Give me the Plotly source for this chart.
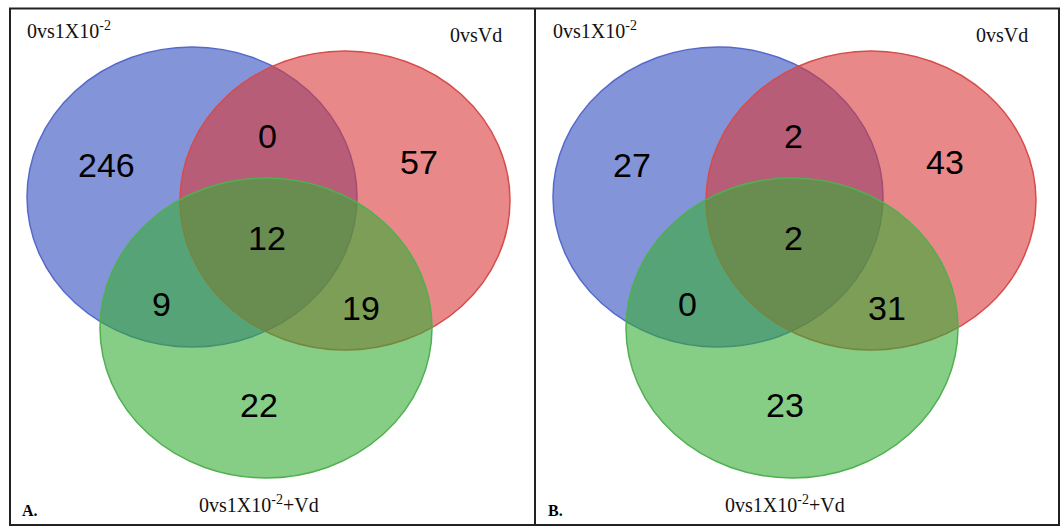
import plotly.graph_objects as go

# ---------------- data ----------------
set_labels = ["0vs1X10<sup>-2</sup>", "0vsVd", "0vs1X10<sup>-2</sup>+Vd"]
panel_letters = ["A.", "B."]
# region order: only set1, set1&set2 only, only set2, all three, set1&set3 only, set2&set3 only, only set3
region_names = ["1", "12", "2", "123", "13", "23", "3"]
counts_A = [246, 0, 57, 12, 9, 19, 22]
counts_B = [27, 2, 43, 2, 0, 31, 23]
panels = [counts_A, counts_B]

# ---------------- layout geometry (pixel space) ----------------
W, H = 1062, 526
panel_dx = [0, 526]
# ellipse boxes (x0, x1, y0, y1) for panel A
circle_boxes = [(27, 357, 47, 347), (180, 510, 51, 350), (100, 432, 178, 478)]
fills = ["rgba(50,77,190,0.6)", "rgba(217,57,57,0.6)", "rgba(53,173,53,0.6)"]
strokes = ["rgb(85,105,205)", "rgb(215,75,75)", "rgb(80,175,80)"]
region_pos = {"1": (106, 165), "12": (267, 136), "2": (419, 162), "123": (267, 238),
              "13": (161, 304), "23": (361, 308), "3": (259, 405)}

fig = go.Figure()
shapes = []
annotations = []

for p, counts in enumerate(panels):
    dx = panel_dx[p]
    for (x0, x1, y0, y1), fc, lc in zip(circle_boxes, fills, strokes):
        shapes.append(dict(type="circle", xref="x", yref="y", x0=x0 + dx, x1=x1 + dx,
                           y0=y0, y1=y1, fillcolor=fc, line=dict(color=lc, width=1.5),
                           layer="above"))
    for name, val in zip(region_names, counts):
        x, y = region_pos[name]
        annotations.append(dict(x=x + dx, y=y, xref="x", yref="y", text=str(val),
                                showarrow=False, xanchor="center", yanchor="middle",
                                font=dict(family="Liberation Sans, Arial", size=34, color="black")))
    serif = dict(family="Liberation Serif, Times New Roman", size=20, color="#111")
    annotations.append(dict(x=25 + dx, y=30, xref="x", yref="y", text=set_labels[0],
                            showarrow=False, xanchor="left", yanchor="middle", font=serif))
    annotations.append(dict(x=504 + dx, y=35, xref="x", yref="y", text=set_labels[1],
                            showarrow=False, xanchor="right", yanchor="middle", font=serif))
    annotations.append(dict(x=259 + dx, y=504, xref="x", yref="y", text=set_labels[2],
                            showarrow=False, xanchor="center", yanchor="middle", font=serif))
    annotations.append(dict(x=20 + dx, y=510, xref="x", yref="y",
                            text="<b>" + panel_letters[p] + "</b>",
                            showarrow=False, xanchor="left", yanchor="middle",
                            font=dict(family="Liberation Serif, Times New Roman", size=16, color="black")))

# frame and divider
shapes.append(dict(type="rect", xref="x", yref="y", x0=10, x1=1059, y0=8.5, y1=525,
                   line=dict(color="#222", width=2), fillcolor="rgba(0,0,0,0)", layer="above"))
shapes.append(dict(type="line", xref="x", yref="y", x0=535, x1=535, y0=8.5, y1=525,
                   line=dict(color="#222", width=2), layer="above"))

fig.update_layout(
    width=W, height=H,
    margin=dict(l=0, r=0, t=0, b=0),
    paper_bgcolor="white", plot_bgcolor="white",
    xaxis=dict(range=[0, W], visible=False, fixedrange=True),
    yaxis=dict(range=[H, 0], visible=False, fixedrange=True),
    shapes=shapes, annotations=annotations, showlegend=False,
)

fig.write_html("out.html", config={"displayModeBar": False},
               post_script="document.body.style.margin='0';document.body.style.overflow='hidden';")
